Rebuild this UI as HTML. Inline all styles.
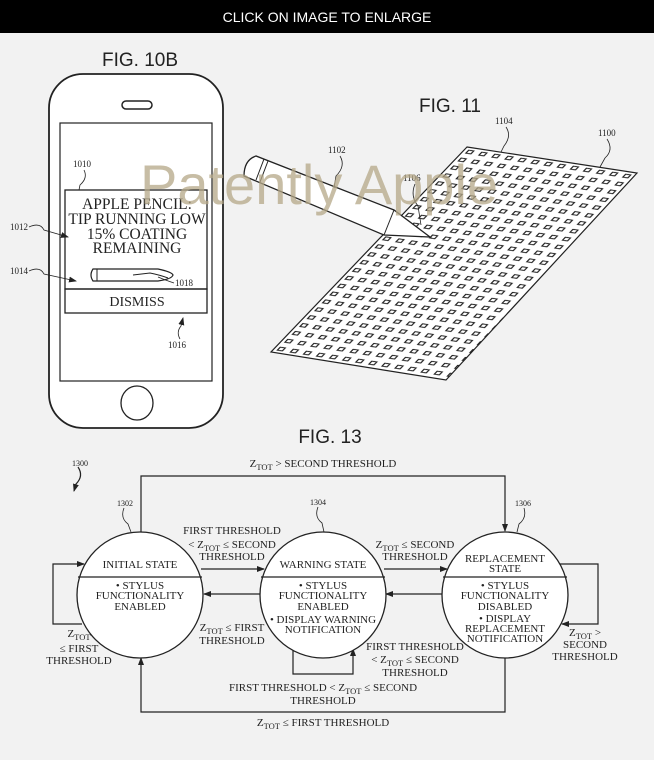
<!DOCTYPE html>
<html><head><meta charset="utf-8"><style>
html,body{margin:0;padding:0;background:#f2f2f2;}
svg{display:block;}
text{font-family:"Liberation Serif",serif;fill:#222;}
.s{font-family:"Liberation Sans",sans-serif;}
</style></head><body>
<svg width="654" height="760" viewBox="0 0 654 760" xmlns="http://www.w3.org/2000/svg">
<defs>
<marker id="a" markerWidth="8" markerHeight="8" refX="7" refY="4" orient="auto" markerUnits="userSpaceOnUse"><path d="M0,1 L8,4 L0,7 Z" fill="#222"/></marker>
<pattern id="g" width="1" height="1" patternUnits="userSpaceOnUse" patternTransform="matrix(13.08,2,-7.54,7.88,467,147)">
<rect x="0.32" y="0.32" width="0.38" height="0.38" fill="none" stroke="#222" stroke-width="0.11"/>
</pattern>
<clipPath id="pc"><path d="M467,147 L637,173 L446,380 L271,352 Z"/></clipPath>
</defs>
<rect width="654" height="760" fill="#f2f2f2"/>
<rect width="654" height="33" fill="#000"/>
<text x="327" y="22" text-anchor="middle" class="s" style="fill:#fff;font-size:14px">CLICK ON IMAGE TO ENLARGE</text>

<!-- FIG 10B -->
<text x="140" y="66" text-anchor="middle" class="s" style="font-size:19px">FIG. 10B</text>
<rect x="49" y="74" width="174" height="354" rx="34" fill="#fff" stroke="#222" stroke-width="1.8"/>
<rect x="122" y="101" width="30" height="8" rx="4" fill="none" stroke="#222" stroke-width="1.5"/>
<rect x="60" y="123" width="152" height="258" fill="none" stroke="#222" stroke-width="1.2"/>
<rect x="65" y="190" width="142" height="99" fill="none" stroke="#222" stroke-width="1.3"/>
<rect x="65" y="289" width="142" height="24" fill="none" stroke="#222" stroke-width="1.3"/>
<g style="font-size:15.5px" text-anchor="middle">
<text x="137" y="209">APPLE PENCIL:</text>
<text x="137" y="224">TIP RUNNING LOW</text>
<text x="137" y="239">15% COATING</text>
<text x="137" y="253">REMAINING</text>
<text x="137" y="306" style="font-size:14px">DISMISS</text>
</g>
<path d="M93,269 L158,269 Q172,272 173,275 Q172,279 158,281 L93,281 Q89,275 93,269 Z" fill="#fff" stroke="#222" stroke-width="1.2"/>
<line x1="97" y1="269" x2="97" y2="281" stroke="#222"/>
<path d="M133,275 L150,273 Q160,275 168,278" fill="none" stroke="#222"/>
<ellipse cx="137" cy="403" rx="16" ry="17" fill="none" stroke="#222" stroke-width="1.3"/>
<g style="font-size:9px">
<text x="73" y="167">1010</text><path d="M84,170 Q88,178 80,185 L79,190" fill="none" stroke="#222" stroke-width="0.8"/>
<text x="10" y="230">1012</text><path d="M29,227 Q40,222 44,230 L68,237" fill="none" stroke="#222" stroke-width="0.8" marker-end="url(#a)"/>
<text x="10" y="274">1014</text><path d="M29,271 Q40,266 44,274 L76,281" fill="none" stroke="#222" stroke-width="0.8" marker-end="url(#a)"/>
<text x="175" y="286">1018</text><path d="M174,283 Q165,280 158,277" fill="none" stroke="#222" stroke-width="0.8"/>
<text x="168" y="348">1016</text><path d="M180,339 Q176,332 181,326 L183,318" fill="none" stroke="#222" stroke-width="0.8" marker-end="url(#a)"/>
</g>

<!-- FIG 11 -->
<text x="450" y="112" text-anchor="middle" class="s" style="font-size:19px">FIG. 11</text>
<path d="M467,147 L637,173 L446,380 L271,352 Z" fill="#fff" stroke="#222" stroke-width="1.2"/>
<rect x="260" y="140" width="390" height="250" fill="url(#g)" clip-path="url(#pc)"/>
<path d="M256,156 Q244,160 244,176 L384,235 L430,237 L394,210 Z" fill="#fff" stroke="#222" stroke-width="1.3"/>
<line x1="264" y1="159" x2="256" y2="180" stroke="#222"/>
<line x1="268" y1="161" x2="260" y2="182" stroke="#222"/>
<line x1="394" y1="210" x2="384" y2="235" stroke="#222"/>
<g style="font-size:9px">
<text x="328" y="153">1102</text><path d="M340,156 Q346,166 336,176 L334,188" fill="none" stroke="#222" stroke-width="0.8"/>
<text x="495" y="124">1104</text><path d="M506,127 Q512,136 504,146 L501,152" fill="none" stroke="#222" stroke-width="0.8"/>
<text x="598" y="136">1100</text><path d="M607,139 Q614,150 605,158 L600,167" fill="none" stroke="#222" stroke-width="0.8"/>
<text x="403" y="181">1106</text><path d="M415,184 Q410,196 418,206 L421,225" fill="none" stroke="#222" stroke-width="0.8"/>
</g>
<text x="140" y="204" class="s" style="font-size:56px;fill:#b5a888;opacity:0.75">Patently Apple</text>

<!-- FIG 13 -->
<text x="330" y="443" text-anchor="middle" class="s" style="font-size:19px">FIG. 13</text>
<g fill="none" stroke="#222" stroke-width="1.2">
<path d="M141,532 L141,476 L505,476 L505,531" marker-end="url(#a)"/>
<path d="M505,657 L505,712 L141,712 L141,658" marker-end="url(#a)"/>
<line x1="201" y1="569" x2="264" y2="569" marker-end="url(#a)"/>
<line x1="261" y1="594" x2="204" y2="594" marker-end="url(#a)"/>
<line x1="384" y1="569" x2="447" y2="569" marker-end="url(#a)"/>
<line x1="443" y1="594" x2="386" y2="594" marker-end="url(#a)"/>
<path d="M82,624 L53,624 L53,564 L84,564" marker-end="url(#a)"/>
<path d="M560,564 L598,564 L598,624 L562,624" marker-end="url(#a)"/>
<path d="M293,650 L293,674 L353,674 L353,649" marker-end="url(#a)"/>
<path d="M78,467 Q84,476 76,484 L74,491" marker-end="url(#a)"/>
</g>
<g fill="#fff" stroke="#222" stroke-width="1.3">
<circle cx="140" cy="595" r="63"/>
<circle cx="323" cy="595" r="63"/>
<circle cx="505" cy="595" r="63"/>
</g>
<g stroke="#222" stroke-width="1.2">
<line x1="78" y1="577" x2="202" y2="577"/>
<line x1="261" y1="577" x2="385" y2="577"/>
<line x1="443" y1="577" x2="567" y2="577"/>
</g>
<g fill="none" stroke="#222" stroke-width="0.8">
<path d="M124,508 Q120,518 128,524 L131,532"/>
<path d="M318,507 Q314,517 322,523 L324,532"/>
<path d="M524,508 Q527,518 519,524 L517,532"/>
</g>
<g style="font-size:8px">
<text x="72" y="466">1300</text>
<text x="117" y="506">1302</text>
<text x="310" y="505">1304</text>
<text x="515" y="506">1306</text>
</g>
<g style="font-size:11px" text-anchor="middle">
<text x="140" y="568">INITIAL STATE</text>
<text x="140" y="589">• STYLUS</text>
<text x="140" y="599">FUNCTIONALITY</text>
<text x="140" y="610">ENABLED</text>
<text x="323" y="568">WARNING STATE</text>
<text x="323" y="589">• STYLUS</text>
<text x="323" y="599">FUNCTIONALITY</text>
<text x="323" y="610">ENABLED</text>
<text x="323" y="623">• DISPLAY WARNING</text>
<text x="323" y="633">NOTIFICATION</text>
<text x="505" y="562">REPLACEMENT</text>
<text x="505" y="572">STATE</text>
<text x="505" y="589">• STYLUS</text>
<text x="505" y="599">FUNCTIONALITY</text>
<text x="505" y="610">DISABLED</text>
<text x="505" y="622">• DISPLAY</text>
<text x="505" y="632">REPLACEMENT</text>
<text x="505" y="642">NOTIFICATION</text>

<text x="323" y="467">Z<tspan dy="3" style="font-size:8.5px">TOT</tspan><tspan dy="-3"> &gt; SECOND THRESHOLD</tspan></text>
<text x="232" y="534">FIRST THRESHOLD</text>
<text x="232" y="548">&lt; Z<tspan dy="3" style="font-size:8.5px">TOT</tspan><tspan dy="-3"> ≤ SECOND</tspan></text>
<text x="232" y="560">THRESHOLD</text>
<text x="415" y="548">Z<tspan dy="3" style="font-size:8.5px">TOT</tspan><tspan dy="-3"> ≤ SECOND</tspan></text>
<text x="415" y="560">THRESHOLD</text>
<text x="232" y="631">Z<tspan dy="3" style="font-size:8.5px">TOT</tspan><tspan dy="-3"> ≤ FIRST</tspan></text>
<text x="232" y="644">THRESHOLD</text>
<text x="415" y="650">FIRST THRESHOLD</text>
<text x="415" y="663">&lt; Z<tspan dy="3" style="font-size:8.5px">TOT</tspan><tspan dy="-3"> ≤ SECOND</tspan></text>
<text x="415" y="676">THRESHOLD</text>
<text x="323" y="691">FIRST THRESHOLD &lt; Z<tspan dy="3" style="font-size:8.5px">TOT</tspan><tspan dy="-3"> ≤ SECOND</tspan></text>
<text x="323" y="704">THRESHOLD</text>
<text x="323" y="726">Z<tspan dy="3" style="font-size:8.5px">TOT</tspan><tspan dy="-3"> ≤ FIRST THRESHOLD</tspan></text>
<text x="79" y="637">Z<tspan dy="3" style="font-size:8.5px">TOT</tspan></text>
<text x="79" y="652">≤ FIRST</text>
<text x="79" y="664">THRESHOLD</text>
<text x="585" y="636">Z<tspan dy="3" style="font-size:8.5px">TOT</tspan><tspan dy="-3"> &gt;</tspan></text>
<text x="585" y="648">SECOND</text>
<text x="585" y="660">THRESHOLD</text>
</g>
</svg>
</body></html>
